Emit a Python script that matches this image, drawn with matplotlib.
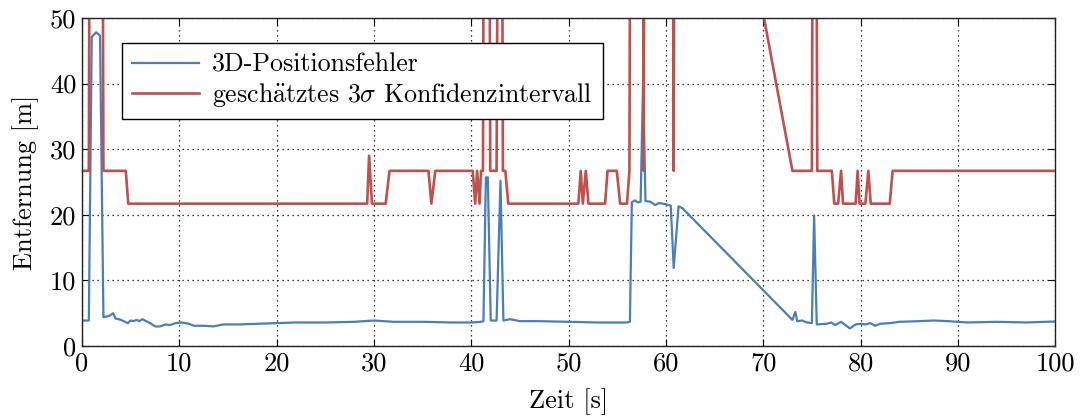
import matplotlib
matplotlib.use("Agg")
import matplotlib.pyplot as plt

plt.rcParams["font.family"] = ["cmr10", "DejaVu Serif"]
plt.rcParams["mathtext.fontset"] = "cm"
plt.rcParams["axes.unicode_minus"] = False
plt.rcParams["axes.formatter.use_mathtext"] = False

# 3D position error [m] over time [s]
t_err = [0, 0.7, 1.0, 1.45, 1.85, 2.2, 2.8, 3.2, 3.45, 4.0, 4.7, 5.0, 5.3, 5.6,
         5.9, 6.2, 6.6, 7.0, 7.5, 8.0, 8.6, 9.0, 9.6, 10.2, 11.0, 11.5, 12.5,
         13.5, 14.5, 16, 18, 20, 22, 25, 28, 30, 32, 35, 38, 40, 41.0, 41.25,
         41.5, 41.7, 42.0, 42.6, 43.0, 43.3, 44.0, 45, 47, 50, 53, 56.0, 56.3,
         56.5, 56.8, 57.1, 57.4, 57.65, 57.9, 58.4, 58.9, 59.3, 60.0, 60.5,
         60.8, 61.3, 61.7, 73.0, 73.3, 73.5, 74.0, 74.5, 75.0, 75.23, 75.5,
         76.5, 77.0, 77.4, 78.0, 78.9, 79.5, 80.0, 80.5, 81.0, 81.5, 82.0, 83.0,
         84.0, 86.0, 87.5, 89.0, 91.0, 94.0, 97.0, 100.0]
err = [3.9, 3.9, 47.1, 47.8, 47.3, 4.4, 4.6, 5.0, 4.2, 4.0, 3.5, 3.9, 3.8, 4.0,
       3.8, 4.1, 3.8, 3.5, 3.0, 3.0, 3.3, 3.2, 3.5, 3.6, 3.4, 3.1, 3.1,
       3.0, 3.3, 3.3, 3.4, 3.5, 3.6, 3.6, 3.7, 3.9, 3.7, 3.7, 3.6, 3.6, 3.7, 3.8,
       25.7, 25.7, 3.9, 3.9, 25.2, 3.9, 4.1, 3.8, 3.8, 3.7, 3.6, 3.6, 3.7,
       21.9, 22.2, 21.9, 22.0, 40.0, 22.1, 22.0, 21.5, 21.8, 21.6, 21.4,
       11.9, 21.3, 21.0, 4.0, 5.2, 3.8, 3.9, 3.6, 3.5, 19.9, 3.3,
       3.4, 3.6, 3.2, 3.7, 2.7, 3.3, 3.4, 3.3, 3.5, 3.1, 3.4, 3.5,
       3.7, 3.8, 3.9, 3.8, 3.6, 3.7, 3.6, 3.75]

# Estimated 3-sigma confidence bound [m] over time [s]
t_conf = [0, 0.7, 0.8, 2.1, 2.2, 4.5, 4.75, 29.3, 29.5, 29.8, 31.2, 31.6, 35.6,
          35.9, 36.3, 40.15, 40.4, 40.6, 40.85, 41.0, 41.2, 41.3, 41.85, 41.95,
          42.6, 42.75, 43.15, 43.25, 43.5, 43.8, 51.0, 51.25, 51.46, 51.77,
          52.04, 53.75, 54.0, 54.95, 55.3, 56.0, 56.25, 56.35, 57.65, 57.72,
          57.8, 60.72, 60.8, 60.88, 61.3, 73.0, 75.0, 75.1, 75.45, 75.55, 77.05,
          77.3, 77.7, 78.0, 78.2, 79.5, 79.7, 79.9, 80.5, 80.8, 81.05, 83.0,
          83.3, 100.0]
conf = [26.7, 26.7, 80, 80, 26.7, 26.7, 21.7, 21.7, 29.0, 21.7, 21.7, 26.7, 26.7,
        21.7, 26.7, 26.7, 21.7, 26.7, 21.7, 26.7, 26.7, 80, 80, 26.7,
        26.7, 80, 80, 26.7, 26.7, 21.7, 21.7, 26.7, 21.7, 26.7,
        21.7, 21.7, 26.7, 26.7, 21.7, 21.7, 26.7, 80, 80, 26.7,
        80, 80, 26.7, 80, 120, 26.7, 26.7, 80, 80, 26.7, 26.7,
        21.7, 21.7, 26.7, 21.7, 21.7, 26.7, 21.7, 21.7, 26.7, 21.7, 21.7,
        26.7, 26.7]

x_ticks = [0, 10, 20, 30, 40, 50, 60, 70, 80, 90, 100]
y_ticks = [0, 10, 20, 30, 40, 50]

blue = "#4a7ebb"
red = "#c0504d"
fs = 19

fig = plt.figure(figsize=(10.82, 4.16), dpi=100)
ax = fig.add_axes([0.0758, 0.168, 0.8994, 0.789])

ax.plot(t_err, err, color=blue, lw=1.6, label="3D-Positionsfehler")
ax.plot(t_conf, conf, color=red, lw=1.9,
        label=r"gesch$\mathrm{\ddot{a}}$tztes 3$\sigma$ Konfidenzintervall")

ax.set_xlim(0, 100)
ax.set_ylim(0, 50)
ax.set_xticks(x_ticks)
ax.set_yticks(y_ticks)
ax.grid(True, color="black", linestyle=(0, (1, 3)), linewidth=0.9)
ax.tick_params(direction="in", top=True, right=True, length=5, width=0.8,
               labelsize=fs, pad=4)
for s in ax.spines.values():
    s.set_color("#222222")
    s.set_linewidth(1.0)

ax.set_xlabel("Zeit [s]", fontsize=fs, labelpad=9)
ax.set_ylabel("Entfernung [m]", fontsize=fs, labelpad=8)

leg = ax.legend(loc="upper left", bbox_to_anchor=(0.041, 0.924),
                borderaxespad=0, fontsize=18.6, fancybox=False, framealpha=1,
                edgecolor="black", handlelength=2.6, handletextpad=0.5,
                labelspacing=0.15, borderpad=0.4)
leg.get_frame().set_linewidth(1.0)

fig.savefig("out.png", dpi=100)
